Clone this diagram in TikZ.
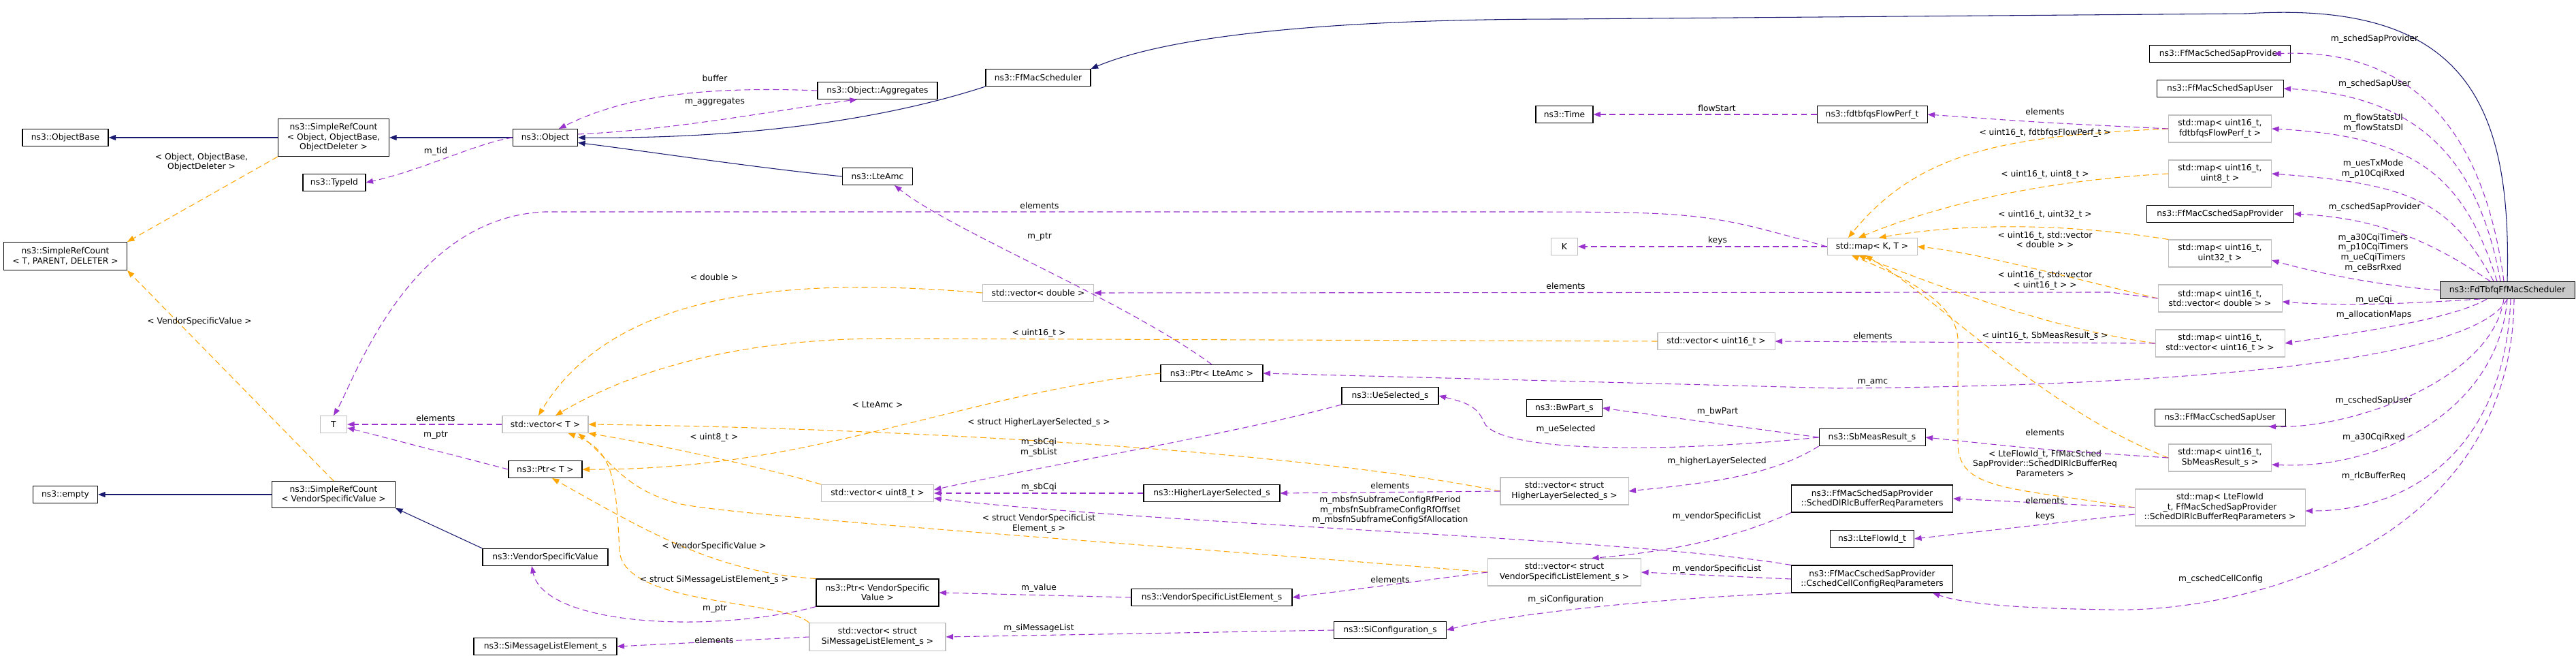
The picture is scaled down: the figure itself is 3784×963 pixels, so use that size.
\documentclass[tikz,border=0pt]{standalone}
\usepackage{fontspec}
\setmainfont{DejaVu Sans}
\usetikzlibrary{arrows.meta}
\definecolor{inh}{HTML}{191970}
\definecolor{use}{HTML}{9A32CD}
\definecolor{tpl}{HTML}{FFA500}
\definecolor{gbox}{HTML}{BFBFBF}
\begin{document}
\begin{tikzpicture}[x=0.2mm,y=0.2mm,
  every node/.style={font=\fontsize{7}{8.3}\selectfont,align=center,inner sep=1pt},
  cls/.style={draw=black,line width=0.6pt,fill=white,minimum height=5mm},
  gcls/.style={draw=gbox,line width=0.6pt,fill=white,minimum height=5mm},
  lbl/.style={inner sep=0pt},
  tip/.style={-{Triangle[length=6pt,width=4.5pt]}},
  inhe/.style={tip,draw=inh,line width=0.6pt},
  rel/.style={tip,draw=use,dash pattern=on 5pt off 3pt,line width=0.6pt},
  tmp/.style={tip,draw=tpl,dash pattern=on 5pt off 3pt,line width=0.6pt}]
\useasboundingbox (0,0) rectangle (3784,-963);
% nodes
\node[cls,minimum width=25.2mm] (ob) at (96,-202) {ns3::ObjectBase};
\node[cls,minimum width=32.6mm,minimum height=11mm] (srco) at (490,-202) {ns3::SimpleRefCount\\< Object, ObjectBase,\\ObjectDeleter >};
\node[cls,minimum width=18.4mm] (tid) at (491,-268) {ns3::TypeId};
\node[cls,minimum width=36.2mm,minimum height=8.2mm] (srct) at (96,-376) {ns3::SimpleRefCount\\< T, PARENT, DELETER >};
\node[gcls,minimum width=7.8mm] (T) at (490,-623) {T};
\node[cls,minimum width=19mm] (emp) at (96,-726) {ns3::empty};
\node[cls,minimum width=36.2mm,minimum height=7.8mm] (srcv) at (490,-726) {ns3::SimpleRefCount\\< VendorSpecificValue >};
\node[cls,minimum width=19mm] (obj) at (801,-202) {ns3::Object};
\node[cls,minimum width=35.2mm] (agg) at (1289,-133) {ns3::Object::Aggregates};
\node[cls,minimum width=20.6mm] (amc) at (1289,-259) {ns3::LteAmc};
\node[gcls,minimum width=25.2mm] (vt) at (801,-623) {std::vector< T >};
\node[cls,minimum width=21.6mm] (pt) at (801,-689) {ns3::Ptr< T >};
\node[cls,minimum width=36.8mm] (vsv) at (801,-818) {ns3::VendorSpecificValue};
\node[cls,minimum width=42mm] (siml) at (801,-949) {ns3::SiMessageListElement\_s};
\node[gcls,minimum width=33mm] (vu8) at (1289,-724) {std::vector< uint8\_t >};
\node[cls,minimum width=36mm,minimum height=8mm] (pvsv) at (1289,-870) {ns3::Ptr< VendorSpecific\\Value >};
\node[gcls,minimum width=40mm,minimum height=8.2mm] (vsiml) at (1289,-935) {std::vector< struct\\SiMessageListElement\_s >};
\node[cls,minimum width=30.8mm] (ffs) at (1525,-114) {ns3::FfMacScheduler};
\node[gcls,minimum width=32.6mm] (vd) at (1525,-430) {std::vector< double >};
\node[cls,minimum width=30mm] (pamc) at (1780,-548) {ns3::Ptr< LteAmc >};
\node[cls,minimum width=28.4mm] (ues) at (2042,-581) {ns3::UeSelected\_s};
\node[cls,minimum width=40mm] (hls) at (1780,-724) {ns3::HigherLayerSelected\_s};
\node[cls,minimum width=47.2mm] (vsle) at (1780,-877) {ns3::VendorSpecificListElement\_s};
\node[cls,minimum width=33mm] (sic) at (2042,-925) {ns3::SiConfiguration\_s};
\node[cls,minimum width=16.8mm] (time) at (2298,-168) {ns3::Time};
\node[cls,minimum width=32.4mm] (fp) at (2750,-168) {ns3::fdtbfqsFlowPerf\_t};
\node[gcls,minimum width=7.8mm] (K) at (2298,-362) {K};
\node[gcls,minimum width=26.4mm] (mkt) at (2750,-362) {std::map< K, T >};
\node[gcls,minimum width=34.4mm] (vu16) at (2521,-501) {std::vector< uint16\_t >};
\node[cls,minimum width=22.2mm] (bw) at (2298,-599) {ns3::BwPart\_s};
\node[cls,minimum width=31.2mm] (sbm) at (2750,-642) {ns3::SbMeasResult\_s};
\node[gcls,minimum width=37.6mm,minimum height=8mm] (vhls) at (2298,-721) {std::vector< struct\\HigherLayerSelected\_s >};
\node[gcls,minimum width=45mm,minimum height=8mm] (vvsle) at (2298,-840) {std::vector< struct\\VendorSpecificListElement\_s >};
\node[cls,minimum width=47.4mm,minimum height=8mm] (sdl) at (2750,-732) {ns3::FfMacSchedSapProvider\\::SchedDlRlcBufferReqParameters};
\node[cls,minimum width=24.6mm] (lfi) at (2750,-791) {ns3::LteFlowId\_t};
\node[cls,minimum width=47.4mm,minimum height=8mm] (ccc) at (2750,-850) {ns3::FfMacCschedSapProvider\\::CschedCellConfigReqParameters};
\node[cls,minimum width=41.4mm] (ssp) at (3261,-79) {ns3::FfMacSchedSapProvider};
\node[cls,minimum width=37.2mm] (ssu) at (3261,-130) {ns3::FfMacSchedSapUser};
\node[gcls,minimum width=30.2mm,minimum height=8mm] (mfp) at (3261,-189) {std::map< uint16\_t,\\fdtbfqsFlowPerf\_t >};
\node[gcls,minimum width=30.2mm,minimum height=8mm] (mu8) at (3261,-255) {std::map< uint16\_t,\\uint8\_t >};
\node[cls,minimum width=43.2mm] (csp) at (3261,-314) {ns3::FfMacCschedSapProvider};
\node[gcls,minimum width=30.2mm,minimum height=8mm] (mu32) at (3261,-372) {std::map< uint16\_t,\\uint32\_t >};
\node[gcls,minimum width=36.4mm,minimum height=8mm] (mvd) at (3261,-438) {std::map< uint16\_t,\\std::vector< double > >};
\node[gcls,minimum width=38mm,minimum height=8mm] (mvu) at (3261,-504) {std::map< uint16\_t,\\std::vector< uint16\_t > >};
\node[cls,minimum width=38.4mm] (csu) at (3261,-613) {ns3::FfMacCschedSapUser};
\node[gcls,minimum width=30.2mm,minimum height=8mm] (msb) at (3261,-672) {std::map< uint16\_t,\\SbMeasResult\_s >};
\node[gcls,minimum width=50mm,minimum height=10.8mm] (mfl) at (3261,-745) {std::map< LteFlowId\\\_t, FfMacSchedSapProvider\\::SchedDlRlcBufferReqParameters >};
\node[cls,fill=gbox!85!white,minimum width=39.6mm] (fd) at (3683,-426) {ns3::FdTbfqFfMacScheduler};
% inheritance
\draw[inhe] (srco) -- (ob);
\draw[inhe] (obj) -- (srco);
\draw[inhe] (ffs.south west) .. controls (1300,-175) and (1100,-204) .. (obj.east);
\draw[inhe] (amc.west) .. controls (1100,-245) and (950,-222) .. ([yshift=-1.5mm]obj.east);
\draw[inhe] (fd.north) .. controls (3690,-150) and (3620,0) .. (3300,-20) -- (2300,-28) .. controls (1900,-28) and (1700,-60) .. (ffs.north east);
\draw[inhe] (srcv) -- (emp);
\draw[inhe] (vsv.north west) -- (srcv.south east);
% templates
\draw[tmp] (srco.south west) -- (srct.north east);
\node[lbl] at (296,-238) {< Object, ObjectBase,\\ObjectDeleter >};
\draw[tmp] (srcv.north) -- (srct.south east);
\node[lbl] at (293,-472) {< VendorSpecificValue >};
\draw[tmp] (vd.west) .. controls (1150,-405) and (900,-430) .. ([xshift=-2mm]vt.north);
\node[lbl] at (1049,-407) {< double >};
\draw[tmp] (vu16.west) -- (1300,-497) .. controls (1050,-497) and (900,-560) .. ([xshift=3mm]vt.north);
\node[lbl] at (1526,-489) {< uint16\_t >};
\draw[tmp] (vu8.north west) .. controls (1100,-680) and (950,-650) .. (vt.south east);
\node[lbl] at (1049,-642) {< uint8\_t >};
\draw[tmp] (vhls.west) .. controls (1900,-660) and (1300,-628) .. (vt.east);
\node[lbl] at (1526,-620) {< struct HigherLayerSelected\_s >};
\draw[tmp] (vvsle.west) .. controls (1700,-800) and (1100,-760) .. (1000,-740) .. controls (920,-720) and (900,-680) .. ([xshift=-3mm]vt.south east);
\node[lbl] at (1526,-769) {< struct VendorSpecificList\\Element\_s >};
\draw[tmp] (vsiml.north west) .. controls (1150,-880) and (920,-890) .. (910,-810) .. controls (905,-700) and (900,-660) .. ([xshift=-6mm]vt.south east);
\node[lbl] at (1049,-851) {< struct SiMessageListElement\_s >};
\draw[tmp] (pamc.west) .. controls (1400,-580) and (1200,-690) .. (pt.east);
\node[lbl] at (1289,-594) {< LteAmc >};
\draw[tmp] (pvsv.north west) .. controls (1050,-840) and (950,-780) .. ([xshift=2mm]pt.south);
\node[lbl] at (1049,-802) {< VendorSpecificValue >};
\draw[tmp] (mfp.west) .. controls (2950,-200) and (2820,-220) .. ([xshift=-7mm]mkt.north);
\node[lbl] at (3004,-195) {< uint16\_t, fdtbfqsFlowPerf\_t >};
\draw[tmp] (mu8.west) .. controls (3000,-265) and (2850,-300) .. ([xshift=-4mm]mkt.north);
\node[lbl] at (3004,-256) {< uint16\_t, uint8\_t >};
\draw[tmp] (mu32.north west) .. controls (3050,-330) and (2900,-325) .. ([xshift=2mm]mkt.north);
\node[lbl] at (3004,-315) {< uint16\_t, uint32\_t >};
\draw[tmp] (mvd.west) .. controls (3050,-410) and (2900,-370) .. (mkt.east);
\node[lbl] at (3004,-352) {< uint16\_t, std::vector\\< double > >};
\draw[tmp] (mvu.west) .. controls (3000,-480) and (2850,-420) .. ([xshift=-4mm]mkt.south);
\node[lbl] at (3004,-412) {< uint16\_t, std::vector\\< uint16\_t > >};
\draw[tmp] (msb.west) .. controls (3000,-600) and (2850,-440) .. ([xshift=-2mm]mkt.south);
\node[lbl] at (3004,-493) {< uint16\_t, SbMeasResult\_s >};
\draw[tmp] (mfl.west) .. controls (2950,-715) and (2876,-720) .. (2876,-650) -- (2876,-500) .. controls (2876,-440) and (2780,-400) .. ([xshift=-6mm]mkt.south);
\node[lbl] at (3004,-680) {< LteFlowId\_t, FfMacSched\\SapProvider::SchedDlRlcBufferReq\\Parameters >};
% uses
\draw[rel] (obj.west) .. controls (700,-210) and (620,-250) .. (tid.east);
\node[lbl] at (640,-222) {m\_tid};
\draw[rel] (agg.west) .. controls (1000,-125) and (900,-150) .. ([xshift=4mm]obj.north);
\node[lbl] at (1050,-115) {buffer};
\draw[rel] ([yshift=1mm]obj.east) .. controls (1000,-190) and (1150,-160) .. ([xshift=-6mm]agg.south);
\node[lbl] at (1050,-150) {m\_aggregates};
\draw[rel] (mkt.west) .. controls (2500,-311) .. (2200,-311) -- (800,-311) .. controls (600,-320) and (520,-560) .. (T.north);
\node[lbl] at (1527,-302) {elements};
\draw[rel] (vt.west) -- (T.east);
\node[lbl] at (640,-614) {elements};
\draw[rel] (pt.west) -- ([yshift=-1mm]T.east);
\node[lbl] at (640,-639) {m\_ptr};
\draw[rel] (pamc.north) .. controls (1650,-440) and (1400,-340) .. ([xshift=5mm]amc.south);
\node[lbl] at (1527,-348) {m\_ptr};
\draw[rel] (mkt) -- (K);
\node[lbl] at (2523,-353) {keys};
\draw[rel] (fp) -- (time);
\node[lbl] at (2522,-159) {flowStart};
\draw[rel] (mfp.west) .. controls (3000,-180) .. (fp.east);
\node[lbl] at (3004,-164) {elements};
\draw[rel] (mvd.west) -- (3100,-429) -- (vd.east);
\node[lbl] at (2300,-420) {elements};
\draw[rel] (mvu.west) -- (vu16.east);
\node[lbl] at (2751,-493) {elements};
\draw[rel] (fd.south) .. controls (3640,-520) and (3300,-565) .. (2700,-570) -- (pamc.east);
\node[lbl] at (2751,-562) {m\_amc};
\draw[rel] (ues.south west) .. controls (1800,-640) and (1500,-690) .. ([yshift=1mm]vu8.east);
\node[lbl] at (1526,-657) {m\_sbCqi\\m\_sbList};
\draw[rel] (hls) -- (vu8);
\node[lbl] at (1526,-715) {m\_sbCqi};
\draw[rel] (ccc.north west) .. controls (2400,-790) and (1700,-770) .. ([yshift=-1.5mm]vu8.east);
\node[lbl] at (2042,-749) {m\_mbsfnSubframeConfigRfPeriod\\m\_mbsfnSubframeConfigRfOffset\\m\_mbsfnSubframeConfigSfAllocation};
\draw[rel] (vhls.west) -- (hls.east);
\node[lbl] at (2042,-713) {elements};
\draw[rel] (vvsle.west) -- (vsle.east);
\node[lbl] at (2042,-851) {elements};
\draw[rel] (vsle.west) -- (pvsv.east);
\node[lbl] at (1526,-863) {m\_value};
\draw[rel] (pvsv.south west) .. controls (1050,-930) and (800,-920) .. ([xshift=-4mm]vsv.south);
\node[lbl] at (1050,-894) {m\_ptr};
\draw[rel] (vsiml.west) -- (siml.east);
\node[lbl] at (1049,-940) {elements};
\draw[rel] (sic.west) -- (vsiml.east);
\node[lbl] at (1526,-922) {m\_siMessageList};
\draw[rel] (ccc.south west) .. controls (2400,-880) and (2200,-905) .. (sic.east);
\node[lbl] at (2300,-880) {m\_siConfiguration};
\draw[rel] (sbm.west) .. controls (2450,-665) and (2200,-665) .. (2180,-620) .. controls (2170,-595) and (2150,-590) .. (ues.east);
\node[lbl] at (2300,-630) {m\_ueSelected};
\draw[rel] (sbm.west) -- (bw.east);
\node[lbl] at (2523,-604) {m\_bwPart};
\draw[rel] (sbm.south west) .. controls (2600,-700) and (2500,-710) .. (vhls.east);
\node[lbl] at (2522,-677) {m\_higherLayerSelected};
\draw[rel] (sdl.south west) .. controls (2550,-790) and (2450,-810) .. ([xshift=8mm]vvsle.north);
\node[lbl] at (2522,-758) {m\_vendorSpecificList};
\draw[rel] (ccc.west) -- (vvsle.east);
\node[lbl] at (2522,-835) {m\_vendorSpecificList};
\draw[rel] (msb.west) .. controls (3000,-660) .. (sbm.east);
\node[lbl] at (3004,-635) {elements};
\draw[rel] (mfl.west) -- (sdl.east);
\node[lbl] at (3004,-735) {elements};
\draw[rel] ([yshift=-2mm]mfl.west) .. controls (3000,-770) .. (lfi.east);
\node[lbl] at (3004,-758) {keys};
% from FdTbfq
\draw[rel] ([xshift=-1mm]fd.north) .. controls (3650,-200) and (3550,-70) .. ([xshift=-5mm]ssp.east);
\node[lbl] at (3488,-57) {m\_schedSapProvider};
\draw[rel] ([xshift=-2mm]fd.north) .. controls (3640,-230) and (3550,-140) .. (ssu.east);
\node[lbl] at (3488,-123) {m\_schedSapUser};
\draw[rel] ([xshift=-3mm]fd.north) .. controls (3620,-260) and (3550,-200) .. (mfp.east);
\node[lbl] at (3486,-181) {m\_flowStatsUl\\m\_flowStatsDl};
\draw[rel] ([xshift=-4mm]fd.north) .. controls (3600,-300) and (3550,-270) .. (mu8.east);
\node[lbl] at (3486,-248) {m\_uesTxMode\\m\_p10CqiRxed};
\draw[rel] ([xshift=-5mm]fd.north) .. controls (3580,-360) and (3500,-320) .. (csp.east);
\node[lbl] at (3488,-304) {m\_cschedSapProvider};
\draw[rel] (fd.west) .. controls (3500,-420) and (3400,-400) .. ([yshift=-2mm]mu32.east);
\node[lbl] at (3486,-371) {m\_a30CqiTimers\\m\_p10CqiTimers\\m\_ueCqiTimers\\m\_ceBsrRxed};
\draw[rel] ([xshift=-8mm]fd.south) .. controls (3550,-445) and (3450,-450) .. ([yshift=-1mm]mvd.east);
\node[lbl] at (3487,-440) {m\_ueCqi};
\draw[rel] ([xshift=-6mm]fd.south) .. controls (3600,-470) and (3450,-490) .. (mvu.east);
\node[lbl] at (3487,-462) {m\_allocationMaps};
\draw[rel] ([xshift=-1mm]fd.south) .. controls (3660,-560) and (3450,-630) .. ([xshift=-5mm]csu.south east);
\node[lbl] at (3487,-588) {m\_cschedSapUser};
\draw[rel] (fd.south) .. controls (3670,-600) and (3500,-690) .. ([yshift=-2mm]msb.east);
\node[lbl] at (3487,-642) {m\_a30CqiRxed};
\draw[rel] ([xshift=1mm]fd.south) .. controls (3680,-650) and (3550,-750) .. ([yshift=-1mm]mfl.east);
\node[lbl] at (3487,-699) {m\_rlcBufferReq};
\draw[rel] ([xshift=2mm]fd.south) .. controls (3690,-800) and (3300,-900) .. (3100,-895) .. controls (2950,-893) and (2880,-885) .. ([xshift=-6mm]ccc.south east);
\node[lbl] at (3262,-850) {m\_cschedCellConfig};
\end{tikzpicture}
\end{document}
